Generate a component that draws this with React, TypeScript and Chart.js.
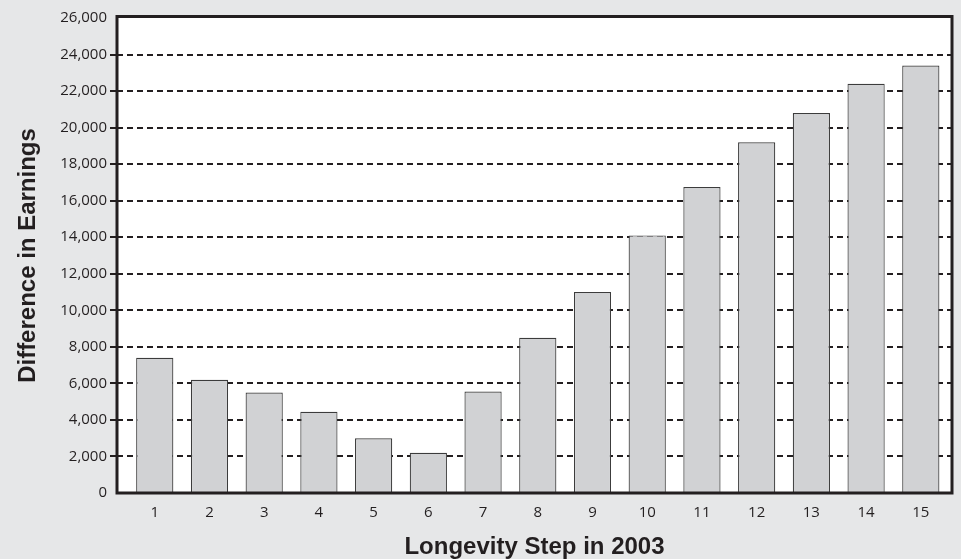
import React, { useEffect, useRef } from "react";
import { Chart, registerables } from "chart.js";

Chart.register(...registerables);

const categories = ["1", "2", "3", "4", "5", "6", "7", "8", "9", "10", "11", "12", "13", "14", "15"];
const earningsDiff = [7400, 6200, 5500, 4450, 3000, 2200, 5550, 8500, 11000, 14100, 16750, 19200, 20800, 22400, 23400];
const yTickValues = [0, 2000, 4000, 6000, 8000, 10000, 12000, 14000, 16000, 18000, 20000, 22000, 24000, 26000];
const xTitle = "Longevity Step in 2003";
const yTitle = "Difference in Earnings";

const borderPlugin = {
  id: "plotBorder",
  afterDraw(chart: any) {
    const { ctx, chartArea } = chart;
    ctx.save();
    ctx.strokeStyle = "#231f20";
    ctx.lineWidth = 3;
    ctx.setLineDash([]);
    ctx.strokeRect(chartArea.left, chartArea.top - 1.5, chartArea.right - chartArea.left, chartArea.bottom - chartArea.top + 1.5);
    ctx.restore();
  },
};

const bgPlugin = {
  id: "bgFill",
  beforeDraw(chart: any) {
    const { ctx, chartArea, width, height } = chart;
    ctx.save();
    ctx.fillStyle = "#e6e7e8";
    ctx.fillRect(0, 0, width, height);
    ctx.fillStyle = "#ffffff";
    ctx.fillRect(chartArea.left, chartArea.top, chartArea.right - chartArea.left, chartArea.bottom - chartArea.top);
    ctx.restore();
  },
};

const isEdge = (ctx: any) => ctx.tick && (ctx.tick.value === 0 || ctx.tick.value === 26000);

export default function App() {
  const ref = useRef<HTMLCanvasElement | null>(null);
  useEffect(() => {
    document.body.style.margin = "0";
    const points = categories.map((c, i) => ({ x: Number(c), y: earningsDiff[i] }));
    const chart = new Chart(ref.current!, {
      type: "bar",
      data: {
        datasets: [
          {
            data: points,
            backgroundColor: "#d1d2d4",
            borderColor: "#3c3c3c",
            borderWidth: 1.2,
            categoryPercentage: 1,
            barPercentage: 0.68,
          },
        ],
      },
      options: {
        animation: false,
        responsive: false,
        maintainAspectRatio: false,
        layout: { padding: { top: 18, right: 9, left: 0, bottom: 0 } },
        plugins: { legend: { display: false }, tooltip: { enabled: false } },
        scales: {
          x: {
            type: "linear",
            offset: false,
            min: 0.31,
            max: 15.57,
            grid: { display: false, drawTicks: false },
            border: { display: false },
            afterBuildTicks(scale: any) {
              scale.ticks = categories.map((c) => ({ value: Number(c) }));
            },
            ticks: {
              color: "#231f20",
              padding: 11,
              autoSkip: false,
              maxRotation: 0,
              font: { family: "'Open Sans', sans-serif", size: 15 },
              callback: (v: any) => String(v),
            },
            title: {
              display: true,
              text: xTitle,
              color: "#231f20",
              font: { family: "'Liberation Sans', Arial, sans-serif", size: 24, weight: "bold", lineHeight: 1 },
              padding: { top: 0, bottom: 0 },
            },
            afterFit(scale: any) {
              scale.height = 66;
            },
          },
          y: {
            min: 0,
            max: 26000,
            afterBuildTicks(scale: any) {
              scale.ticks = yTickValues.map((v) => ({ value: v }));
            },
            ticks: {
              color: "#231f20",
              padding: 3,
              font: { family: "'Open Sans', sans-serif", size: 15 },
              callback: (v: any) => Number(v).toLocaleString("en-US"),
            },
            grid: {
              color: (ctx: any) => (isEdge(ctx) ? "rgba(0,0,0,0)" : "#231f20"),
              lineWidth: 2,
              tickLength: 7,
              tickBorderDash: [],
              tickWidth: 2,
              tickColor: (ctx: any) => (isEdge(ctx) ? "rgba(0,0,0,0)" : "#231f20"),
            },
            border: { display: false, dash: [6, 4] },
            title: {
              display: true,
              text: yTitle,
              color: "#231f20",
              font: { family: "'Liberation Sans', Arial, sans-serif", size: 24, weight: "bold", lineHeight: 1 },
              padding: { top: 16, bottom: 0 },
            },
            afterFit(scale: any) {
              scale.width = 117;
            },
          },
        },
      },
      plugins: [bgPlugin, borderPlugin],
    } as any);
    return () => chart.destroy();
  }, []);
  return (
    <div style={{ width: 961, height: 559 }}>
      <canvas ref={ref} width={961} height={559} style={{ display: "block" }} />
    </div>
  );
}
